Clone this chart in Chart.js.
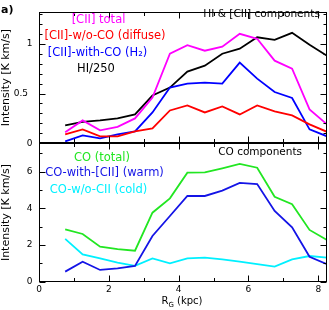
<!DOCTYPE html>
<html>
<head>
<meta charset="utf-8">
<script src="https://cdn.jsdelivr.net/npm/chart.js@4"></script>
<style>
  html, body { margin: 0; padding: 0; background: #fff; }
  #wrap { position: relative; width: 329px; height: 310px; }
  #wrap canvas { position: absolute; left: 0; top: 0; }
</style>
</head>
<body>
<div id="wrap">
  <canvas id="cTop" width="329" height="310"></canvas>
  <canvas id="cBot" width="329" height="310"></canvas>
</div>
<script>
// galactocentric radius bins (kpc)
const rG = [0.75, 1.25, 1.75, 2.25, 2.75, 3.25, 3.75, 4.25, 4.75, 5.25, 5.75, 6.25, 6.75, 7.25, 7.75, 8.25];

// upper panel: HI & [CII] components (K km/s)
const ciiTotal   = [0.11, 0.23, 0.13, 0.165, 0.25, 0.46, 0.90, 0.985, 0.93, 0.97, 1.10, 1.05, 0.83, 0.75, 0.34, 0.19];
const ciiDiffuse = [0.09, 0.14, 0.07, 0.07, 0.12, 0.15, 0.33, 0.38, 0.31, 0.37, 0.29, 0.38, 0.32, 0.28, 0.19, 0.115];
const ciiH2      = [0.02, 0.08, 0.05, 0.09, 0.12, 0.31, 0.56, 0.60, 0.61, 0.60, 0.81, 0.65, 0.515, 0.455, 0.14, 0.07];
const hi250      = [0.18, 0.215, 0.23, 0.25, 0.29, 0.48, 0.56, 0.72, 0.78, 0.90, 0.95, 1.065, 1.04, 1.11, 0.99, 0.88];

// lower panel: CO components (K km/s)
const coTotal = [2.85, 2.6, 1.91, 1.77, 1.69, 3.76, 4.54, 5.94, 5.96, 6.18, 6.42, 6.21, 4.63, 4.22, 2.82, 2.27];
const coWarm  = [0.55, 1.09, 0.64, 0.73, 0.86, 2.49, 3.58, 4.67, 4.67, 4.96, 5.38, 5.32, 3.85, 2.96, 1.36, 0.95];
const coCold  = [2.33, 1.49, 1.27, 1.04, 0.86, 1.27, 1.00, 1.27, 1.31, 1.22, 1.09, 0.96, 0.82, 1.22, 1.40, 1.31];

// tick labels
const xTickVals = [0, 2, 4, 6, 8];
const yTopTickVals = [0, 0.5, 1];
const yBotTickVals = [0, 2, 4, 6];

const FONT = "'DejaVu Sans', sans-serif";
const pts = vals => vals.map((v, i) => ({ x: rG[i], y: v }));

// frame + inward ticks + free text
const panelDecor = {
  id: 'panelDecor',
  afterDraw(chart, args, o) {
    const { ctx, chartArea: a } = chart;
    const xs = chart.scales.x, ys = chart.scales.y;
    ctx.save();
    ctx.strokeStyle = '#000';
    ctx.lineWidth = 1;
    const L = Math.round(a.left) + 0.5, R = Math.round(a.right) - 0.5;
    const T = Math.round(a.top) + 0.5, B = Math.round(a.bottom) - 0.5;
    ctx.strokeRect(L, T, R - L, B - T);
    ctx.beginPath();
    for (let k = 0; k <= o.yMinorN; k++) {
      const v = k * o.yMinor;
      const len = Math.abs(v / o.yMajor - Math.round(v / o.yMajor)) < 1e-6 ? 6 : 3;
      const p = Math.round(ys.getPixelForValue(v)) + 0.5;
      ctx.moveTo(L, p); ctx.lineTo(L + len, p);
      ctx.moveTo(R, p); ctx.lineTo(R - len, p);
    }
    for (let v = 0; v <= 8; v++) {
      const len = v % 2 === 0 ? 6 : 3.5;
      const p = Math.round(xs.getPixelForValue(v)) + 0.5;
      ctx.moveTo(p, B); ctx.lineTo(p, B - len);
      ctx.moveTo(p, T); ctx.lineTo(p, T + len);
    }
    ctx.stroke();
    ctx.textBaseline = 'middle';
    (o.texts || []).forEach(t => {
      ctx.font = (t.bold ? 'bold ' : '') + t.size + 'px ' + FONT;
      ctx.fillStyle = t.color;
      ctx.textAlign = t.align || 'center';
      ctx.fillText(t.text, t.x, t.y);
    });
    if (o.xTitle) {
      ctx.fillStyle = '#000';
      ctx.textAlign = 'left';
      ctx.textBaseline = 'alphabetic';
      ctx.font = '10px ' + FONT;
      let x = 161.5;
      ctx.fillText('R', x, 304);
      x += ctx.measureText('R').width;
      ctx.font = '7px ' + FONT;
      ctx.fillText('G', x, 306.5);
      x += ctx.measureText('G').width;
      ctx.font = '10px ' + FONT;
      ctx.fillText(' (kpc)', x, 304);
    }
    ctx.restore();
  }
};

function line(label, vals, color) {
  return { label, data: pts(vals), borderColor: color, borderWidth: 1.8, pointRadius: 0, fill: false, tension: 0 };
}

function yScale(max, ticksVals, label) {
  return {
    type: 'linear', min: 0, max,
    afterBuildTicks: s => { s.ticks = ticksVals.map(v => ({ value: v })); },
    afterFit: s => { s.width = 39; },
    grid: { display: false, drawTicks: false },
    border: { display: false },
    ticks: {
      padding: 6.5, color: '#000', font: { family: FONT, size: 9 },
      callback: v => (v === 0.5 ? '0.5\u2002' : String(v))
    },
    title: { display: true, text: label, color: '#000', padding: { top: 0, bottom: 0 }, font: { family: FONT, size: 11 } }
  };
}

const common = {
  responsive: false,
  animation: false,
  devicePixelRatio: 1,
  plugins: { legend: { display: false }, tooltip: { enabled: false } }
};

new Chart(document.getElementById('cTop'), {
  type: 'line',
  data: {
    datasets: [
      line('[CII] total', ciiTotal, '#ff00ff'),
      line('[CII]-w/o-CO (diffuse)', ciiDiffuse, '#ff0000'),
      line('[CII]-with-CO (H2)', ciiH2, '#0000ff'),
      line('HI/250', hi250, '#000000')
    ]
  },
  options: Object.assign({}, common, {
    layout: { padding: { top: 5, right: 2, bottom: 166.7, left: 0 } },
    scales: {
      x: { type: 'linear', min: 0, max: 8.25, display: false },
      y: yScale(1.32, yTopTickVals, 'Intensity [K km/s]')
    },
    plugins: Object.assign({}, common.plugins, {
      panelDecor: {
        yMinor: 0.1, yMinorN: 13, yMajor: 0.5,
        texts: [
          { text: 'a)', x: 1, y: 10, color: '#000', size: 11, bold: true, align: 'left' },
          { text: 'HI & [CII] components', x: 320, y: 14, color: '#000', size: 10.6, align: 'right' },
          { text: '[CII] total', x: 98.5, y: 20, color: '#ff00ff', size: 11.5 },
          { text: '[CII]-w/o-CO (diffuse)', x: 105, y: 36, color: '#ff0000', size: 11.5 },
          { text: '[CII]-with-CO (H\u2082)', x: 97.5, y: 53, color: '#0000ff', size: 11.5 },
          { text: 'HI/250', x: 96, y: 69, color: '#000', size: 11.5 }
        ]
      }
    })
  }),
  plugins: [panelDecor]
});

new Chart(document.getElementById('cBot'), {
  type: 'line',
  data: {
    datasets: [
      line('CO (total)', coTotal, '#22e622'),
      line('CO-with-[CII] (warm)', coWarm, '#1414e6'),
      line('CO-w/o-CII (cold)', coCold, '#00f0ff')
    ]
  },
  options: Object.assign({}, common, {
    layout: { padding: { top: 143.3, right: 2, bottom: 0, left: 0 } },
    scales: {
      x: {
        type: 'linear', min: 0, max: 8.25,
        afterBuildTicks: s => { s.ticks = xTickVals.map(v => ({ value: v })); },
        afterFit: s => { s.height = 28.3; },
        grid: { display: false, drawTicks: false },
        border: { display: false },
        ticks: { padding: 2.5, maxRotation: 0, color: '#000', font: { family: FONT, size: 9 } }
      },
      y: yScale(7.54, yBotTickVals, 'Intensity [K km/s]')
    },
    plugins: Object.assign({}, common.plugins, {
      panelDecor: {
        yMinor: 1, yMinorN: 7, yMajor: 2, xTitle: true,
        texts: [
          { text: 'CO components', x: 302, y: 152, color: '#000', size: 10.5, align: 'right' },
          { text: 'CO (total)', x: 102, y: 158, color: '#22e622', size: 11.5 },
          { text: 'CO-with-[CII] (warm)', x: 104.5, y: 173, color: '#1414e6', size: 11.5 },
          { text: 'CO-w/o-CII (cold)', x: 98.5, y: 190, color: '#00f0ff', size: 11.5 }
        ]
      }
    })
  }),
  plugins: [panelDecor]
});
</script>
</body>
</html>
